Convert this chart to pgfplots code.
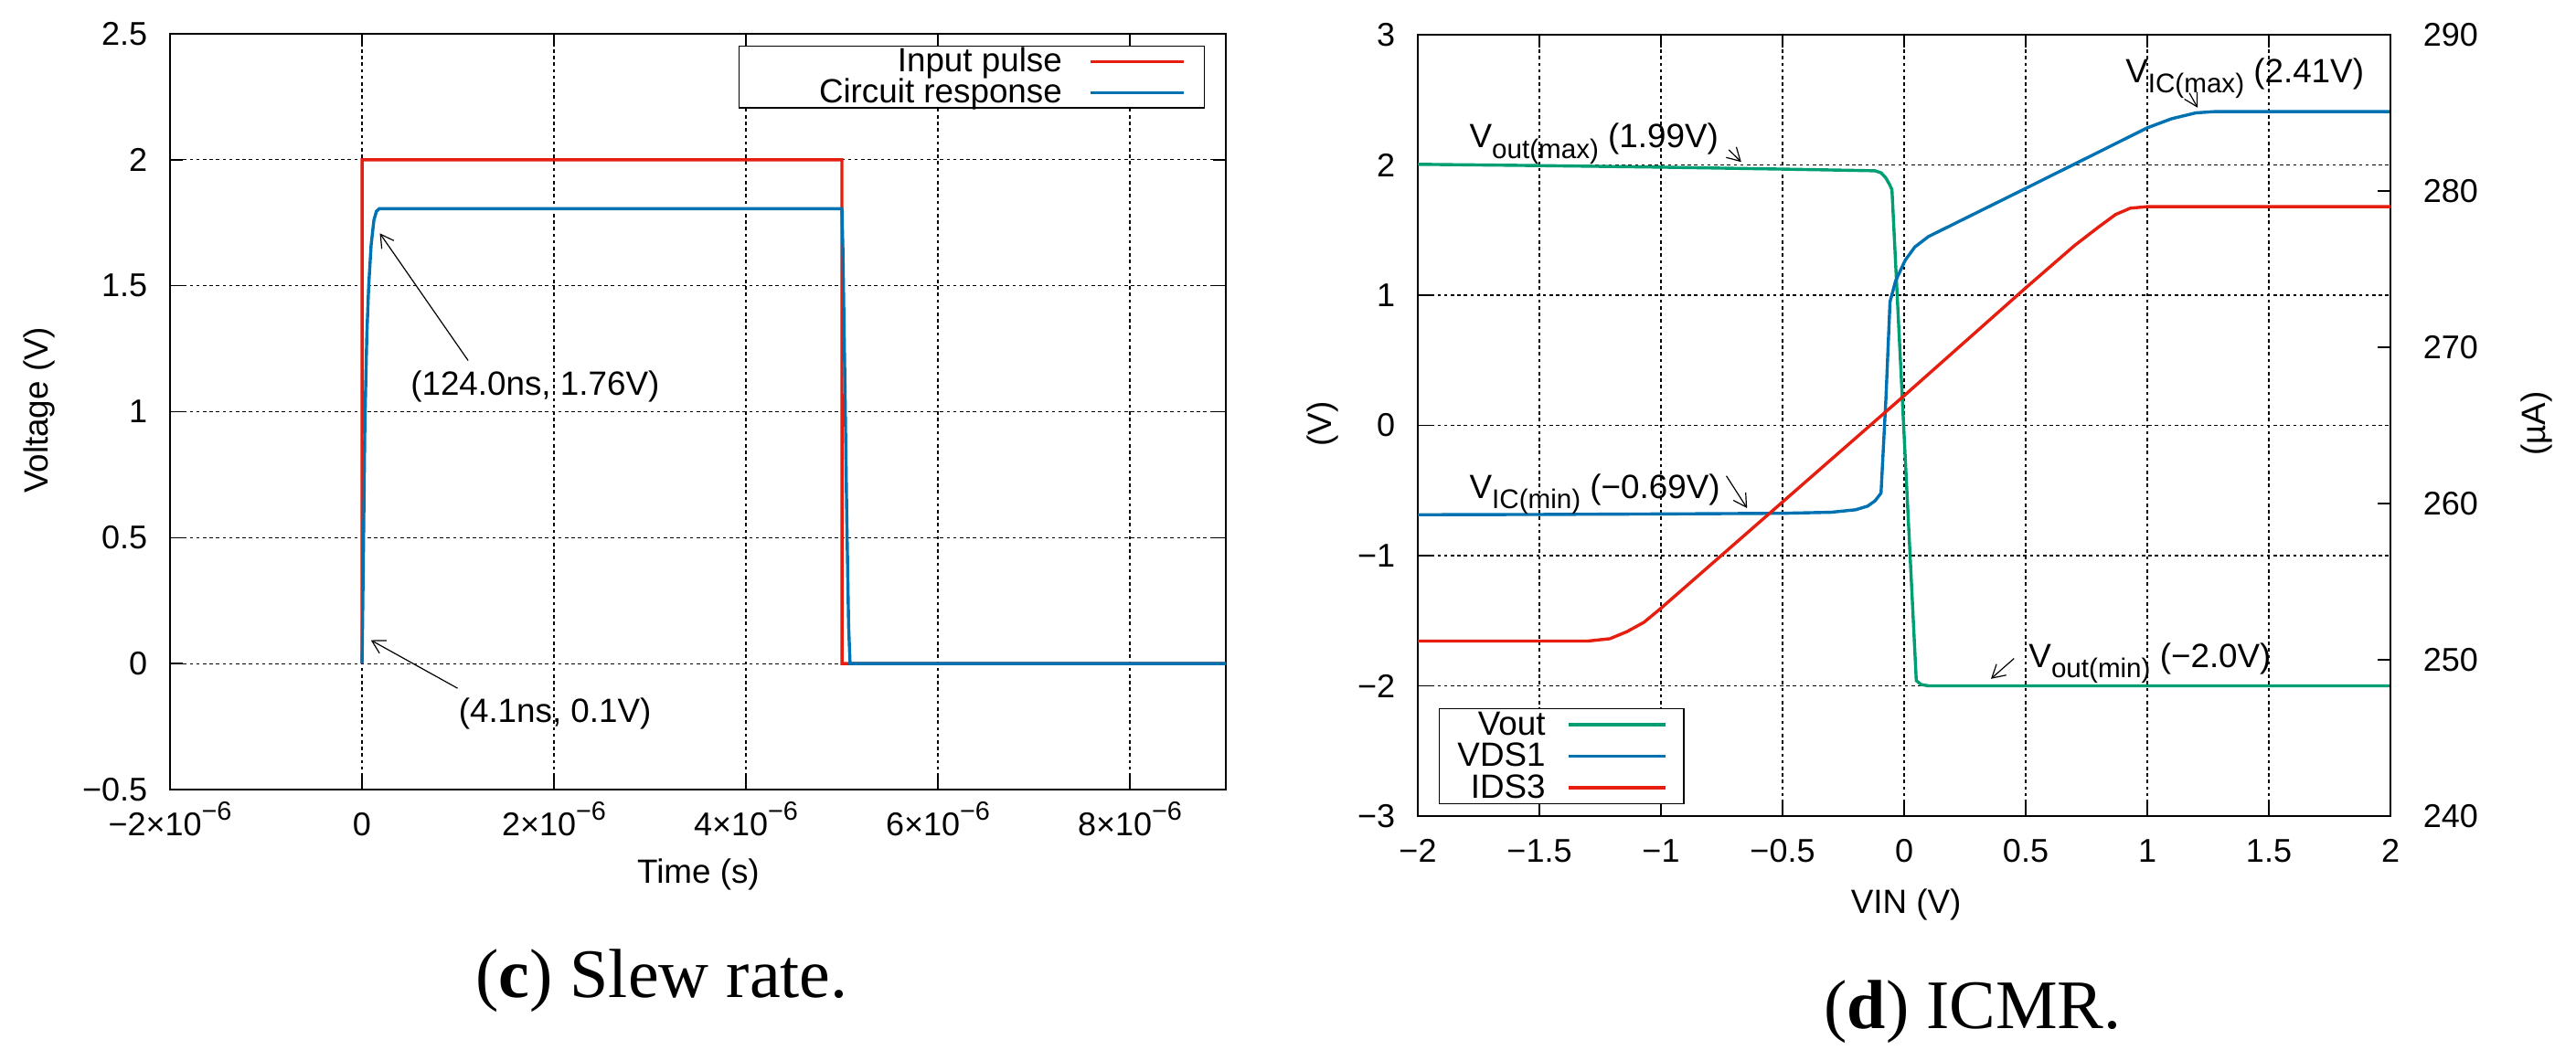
\documentclass[border=0pt]{standalone}
\usepackage{fontspec}
\setmainfont{Liberation Sans}
\newfontfamily\capfont{Liberation Serif}
\usepackage{pgfplots}
\pgfplotsset{compat=1.18}
\usetikzlibrary{arrows.meta}
\definecolor{gpred}{HTML}{E51E10}
\definecolor{gpblue}{HTML}{0072B2}
\definecolor{gpgreen}{HTML}{009E73}
\newcommand\sups[1]{\raisebox{0.45em}{\fontsize{7.2}{8}\selectfont #1}}
\newcommand\subs[1]{\raisebox{-0.3em}{\fontsize{7.4}{8}\selectfont #1}}
\newcommand\lstrutA{\rule[-2.35pt]{0pt}{9.25pt}}
\newcommand\lstrutB{\rule[-2.45pt]{0pt}{9.58pt}}
\tikzset{gparrow/.style={line width=0.3pt,-{Straight Barb[length=3.5pt,width=4pt]}}}
\pgfplotsset{
  gp/.style={
    scale only axis,
    font=\fontsize{9}{10}\selectfont,
    axis line style={line width=0.55pt},
    every tick/.style={black, line width=0.4pt},
    major tick length=3.5pt,
    tick align=inside,
    grid=major,
    major grid style={black, line width=0.3pt, dash pattern=on 0.9pt off 0.9pt},
    xticklabel style={anchor=base, yshift=-12.5pt, inner sep=0pt},
    yticklabel style={anchor=east, xshift=-6pt, inner sep=0pt},
    label style={font=\fontsize{9.2}{10}\selectfont},
    legend plot pos=right,
    legend cell align=right,
  },
}
\begin{document}
\begin{tikzpicture}
\useasboundingbox (0,0) rectangle (704.5pt,287pt);
% ---------------- (c) Slew rate ----------------
\begin{axis}[gp,
  at={(46.5pt,71pt)}, anchor=south west,
  width=288.75pt, height=206.75pt,
  xmin=-2e-6, xmax=9e-6, ymin=-0.5, ymax=2.5,
  scaled x ticks=false,
  xtick={-2e-6,0,2e-6,4e-6,6e-6,8e-6},
  xticklabels={−2×10\sups{−6},0,2×10\sups{−6},4×10\sups{−6},6×10\sups{−6},8×10\sups{−6}},
  ytick={-0.5,0,0.5,1,1.5,2,2.5},
  yticklabels={−0.5,0,0.5,1,1.5,2,2.5},
  xlabel={Time (s)},
  ylabel={Voltage (V)},
  xlabel style={at={(axis description cs:0.5004,-0.1125)}, anchor=center},
  ylabel style={at={(axis description cs:-0.1242,0.502)}, anchor=center},
  legend style={at={(0.980,0.984)}, anchor=north east, draw=black, line width=0.3pt,
    inner xsep=5.25pt, inner ysep=0pt, row sep=0pt, column sep=7.25pt,
    font=\fontsize{9.2}{10}\selectfont, nodes={inner sep=0pt}},
  legend image code/.code={\draw[#1] (0pt,0pt) -- (25.5pt,0pt);},
]
\addplot[gpred, line width=0.85pt] coordinates {
  (0,0) (0.001e-6,2) (5.0e-6,2) (5.001e-6,0) (9e-6,0)};
\addlegendentry{\lstrutA\makebox[83pt][r]{Input pulse}}
\addplot[gpblue, line width=0.85pt] coordinates {
  (0,0) (4.1e-9,0.1) (15e-9,0.45) (30e-9,0.95) (50e-9,1.3) (70e-9,1.5)
  (95e-9,1.66) (124e-9,1.76) (150e-9,1.795) (180e-9,1.806)
  (5.0e-6,1.806) (5.01e-6,1.65) (5.03e-6,1.15) (5.05e-6,0.6) (5.07e-6,0.15)
  (5.085e-6,0) (9e-6,0)};
\addlegendentry{\lstrutA\makebox[83pt][r]{Circuit response}}
\node[anchor=west, inner sep=0pt, font=\fontsize{9.2}{10}\selectfont] at (axis cs:0.5e-6,1.10) {(124.0ns, 1.76V)};
\draw[gparrow] (axis cs:1.106e-6,1.203) -- (axis cs:0.186e-6,1.708);
\node[anchor=west, inner sep=0pt, font=\fontsize{9.2}{10}\selectfont] at (axis cs:1.0e-6,-0.2) {(4.1ns, 0.1V)};
\draw[gparrow] (axis cs:0.996e-6,-0.098) -- (axis cs:0.093e-6,0.093);
\end{axis}
% ---------------- (d) ICMR ----------------
\begin{axis}[gp,
  at={(387.75pt,63.75pt)}, anchor=south west,
  width=266pt, height=213.75pt,
  xmin=-2, xmax=2, ymin=-3, ymax=3,
  xtick={-2,-1.5,-1,-0.5,0,0.5,1,1.5,2},
  xticklabels={−2,−1.5,−1,−0.5,0,0.5,1,1.5,2},
  ytick={-3,-2,-1,0,1,2,3},
  yticklabels={−3,−2,−1,0,1,2,3},
  ytick pos=left,
  xlabel={VIN (V)},
  ylabel={(V)},
  xlabel style={at={(axis description cs:0.502,-0.1135)}, anchor=center},
  ylabel style={at={(axis description cs:-0.0977,0.502)}, anchor=center},
  legend style={at={(0.0216,0.0152)}, anchor=south west, draw=black, line width=0.3pt,
    inner xsep=4.5pt, inner ysep=0pt, row sep=0pt, column sep=6pt,
    font=\fontsize{9.2}{10}\selectfont, nodes={inner sep=0pt}},
  legend image code/.code={\draw[#1] (0pt,0pt) -- (26.5pt,0pt);},
]
\addplot[gpgreen, line width=0.85pt] coordinates {
  (-2,2.005) (-1.5,1.995) (-1,1.983) (-0.5,1.968) (-0.2,1.958) (-0.12,1.955)
  (-0.095,1.94) (-0.075,1.9) (-0.06,1.85) (-0.05,1.81) (0.05,-1.96) (0.07,-1.99)
  (0.1,-2.0) (0.5,-2.0) (1,-2.0) (1.5,-2.0) (2,-2.0)};
\addlegendentry{\lstrutB\makebox[24.5pt][r]{Vout}}
\addplot[gpblue, line width=0.85pt] coordinates {
  (-2,-0.686) (-1.5,-0.684) (-1,-0.68) (-0.5,-0.675) (-0.3,-0.667) (-0.2,-0.648)
  (-0.15,-0.62) (-0.12,-0.58) (-0.095,-0.52) (-0.075,0.2) (-0.058,0.95)
  (-0.035,1.11) (0.005,1.27) (0.044,1.37) (0.1,1.45) (0.5,1.82) (1.0,2.285)
  (1.1,2.355) (1.2,2.4) (1.28,2.41) (2,2.41)};
\addlegendentry{\lstrutB\makebox[24.5pt][r]{VDS1}}
\addlegendimage{gpred, line width=0.85pt}
\addlegendentry{\lstrutB\makebox[24.5pt][r]{IDS3}}
\node[anchor=base west, inner sep=0pt, font=\fontsize{9.2}{10}\selectfont] at (axis cs:-1.79,2.13) {V\subs{out(max)} (1.99V)};
\draw[gparrow] (axis cs:-0.721,2.116) -- (axis cs:-0.670,2.023);
\node[anchor=base west, inner sep=0pt, font=\fontsize{9.2}{10}\selectfont] at (axis cs:-1.79,-0.56) {V\subs{IC(min)} (−0.69V)};
\draw[gparrow] (axis cs:-0.731,-0.388) -- (axis cs:-0.646,-0.635);
\node[anchor=base west, inner sep=0pt, font=\fontsize{9.2}{10}\selectfont] at (axis cs:0.908,2.63) {V\subs{IC(max)} (2.41V)};
\draw[gparrow] (axis cs:1.173,2.553) -- (axis cs:1.207,2.44);
\node[anchor=base west, inner sep=0pt, font=\fontsize{9.2}{10}\selectfont] at (axis cs:0.510,-1.859) {V\subs{out(min)} (−2.0V)};
\draw[gparrow] (axis cs:0.452,-1.79) -- (axis cs:0.357,-1.946);
\end{axis}
\begin{axis}[
  scale only axis,
  at={(387.75pt,63.75pt)}, anchor=south west,
  width=266pt, height=213.75pt,
  font=\fontsize{9}{10}\selectfont,
  xmin=-2, xmax=2, ymin=240, ymax=290,
  axis x line=none, axis y line*=right,
  axis line style={line width=0.55pt},
  every tick/.style={black, line width=0.4pt},
  major tick length=3.5pt,
  tick align=inside,
  ytick={240,250,260,270,280,290},
  yticklabels={240,250,260,270,280,290},
  yticklabel style={anchor=west, xshift=8.75pt, inner sep=0pt},
  ylabel={(µA)},
  ylabel style={at={(axis description cs:1.150,0.502)}, anchor=center, rotate=0, font=\fontsize{9.2}{10}\selectfont},
]
\addplot[gpred, line width=0.85pt] coordinates {
  (-2,251.2) (-1.5,251.2) (-1.3,251.2) (-1.21,251.35) (-1.14,251.8) (-1.07,252.4)
  (-1.0,253.3) (-0.5,260.1) (0,266.9) (0.5,273.8) (0.7,276.5) (0.8,277.7)
  (0.87,278.5) (0.93,278.9) (1.0,279.0) (1.5,279.0) (2,279.0)};
\end{axis}
% captions
\node[font=\capfont\fontsize{19}{22}\selectfont, anchor=base] at (181pt,14.25pt) {(\textbf{c}) Slew rate.};
\node[font=\capfont\fontsize{19}{22}\selectfont, anchor=base] at (539.5pt,5.75pt) {(\textbf{d}) ICMR.};
\end{tikzpicture}
\end{document}
